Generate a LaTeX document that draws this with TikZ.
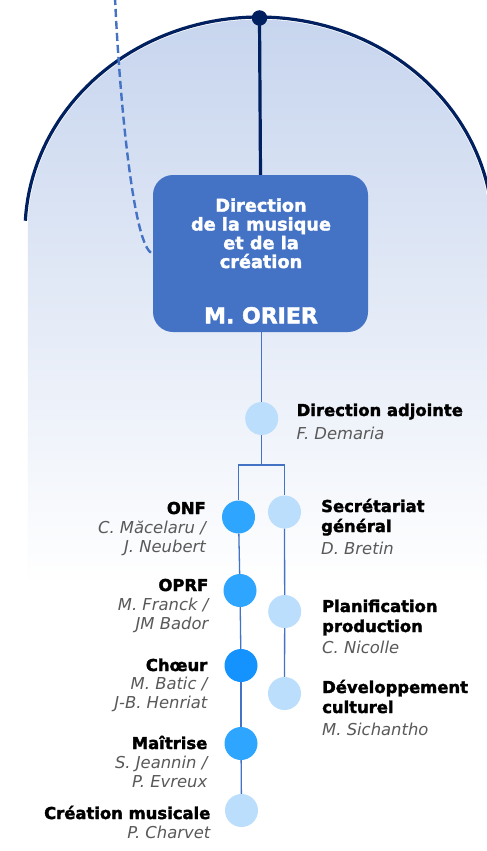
\documentclass[tikz,border=0pt]{standalone}
\usepackage{fontspec}
\setmainfont{DejaVu Sans}[BoldFeatures={FakeBold=2}]
\definecolor{navy}{HTML}{002060}
\definecolor{boxblue}{HTML}{4472C4}
\definecolor{linkblue}{HTML}{4472C4}
\definecolor{lightdot}{HTML}{BBDEFD}
\definecolor{middot}{HTML}{2EA6FF}
\definecolor{deepdot}{HTML}{1493FF}
\definecolor{graytext}{HTML}{595959}
\definecolor{domeTop}{HTML}{C7D5EE}
\pgfdeclareverticalshading{domefade}{100bp}{color(0bp)=(white); color(25bp)=(white); color(30bp)=(white); color(75bp)=(domeTop); color(100bp)=(domeTop)}
\begin{document}
\begin{tikzpicture}[x=1pt,y=-1pt,
  dot/.style={circle, inner sep=0pt, minimum size=33pt, draw=none},
  ldot/.style={dot, fill=lightdot},
  mdot/.style={dot, fill=middot},
  ddot/.style={dot, fill=deepdot},
  bt/.style={font=\bfseries\fontsize{16.4}{18}\selectfont, inner sep=0pt, text=black},
  it/.style={font=\itshape\fontsize{16.4}{18}\selectfont, inner sep=0pt, text=graytext},
  boxt/.style={font=\bfseries\fontsize{17.7}{19}\selectfont, inner sep=0pt, text=white, anchor=base},
  link/.style={draw=linkblue, line width=1.3pt},
  dashlink/.style={draw=linkblue, line width=2.4pt, dash pattern=on 8pt off 4pt},
  navyline/.style={draw=navy, line width=3.2pt}
]
\clip (0,0) rectangle (487,851);
\fill[white] (0,0) rectangle (487,851);
% dome background
\shade[shading=domefade]
  plot[domain=177:0, samples=90] ({259+231.5*cos(\x)},{232-212.5*sin(\x)})
  -- (490.5,650) -- (27.8,650) -- cycle;
% dome outline
\draw[navyline] plot[domain=177:0, samples=90] ({259+234*cos(\x)},{232-215*sin(\x)});

% main box
\node[draw=none, fill=boxblue, rounded corners=20pt, minimum width=215pt, minimum height=157pt, inner sep=0pt] (mbox) at (260.5,253.5) {};
\node[boxt] (bt1) at (261,211.7) {Direction};
\node[boxt] (bt2) at (261,230.5) {de la musique};
\node[boxt] (bt3) at (261,249.2) {et de la};
\node[boxt] (bt4) at (261,268) {création};
\node[boxt, font=\bfseries\fontsize{22}{24}\selectfont] (bt5) at (261,323.3) {M. ORIER};

% top dot and line
\node[circle, fill=navy, inner sep=0pt, minimum size=15.5pt] (top) at (259.5,18) {};
\draw[navyline] (top.center) -- (mbox.north);

% dashed curve
\coordinate (dstart) at (115,-3);
\draw[dashlink] (dstart) .. controls (119,90) and (133,250) .. (mbox.west);

% dots
\node[ldot] (da) at (261.7,418.5) {};
\node[mdot] (onf) at (238.5,517) {};
\node[ldot] (sg) at (284.5,512) {};
\node[mdot] (oprf) at (240,590.5) {};
\node[ldot] (pp) at (284.7,611.5) {};
\node[ddot] (ch) at (241,665.5) {};
\node[ldot] (dc) at (284.5,693.5) {};
\node[mdot] (mt) at (241,743.5) {};
\node[ldot] (cm) at (241.5,810.5) {};
\coordinate (j) at (261.7,465);

% connectors
\draw[link] (da |- mbox.south) -- (da);
\draw[link] (da) -- (j);
\draw[link] (j) -| (onf);
\draw[link] (j) -| (sg);
\draw[link] (onf) -- (oprf);
\draw[link] (oprf) -- (ch);
\draw[link] (ch) -- (mt);
\draw[link] (mt) -- (cm);
\draw[link] (sg) -- (pp);
\draw[link] (pp) -- (dc);

% right labels
\node[bt, anchor=base west] (da1) at (296.5,416) {Direction adjointe};
\node[it, anchor=base west] (da2) at (296.5,439) {F. Demaria};
\node[bt, anchor=base west] (sg1) at (321,512) {Secrétariat};
\node[bt, anchor=base west] (sg2) at (321,532) {général};
\node[it, anchor=base west] (sg3) at (321,554) {D. Bretin};
\node[bt, anchor=base west] (pp1) at (322,612) {Planification};
\node[bt, anchor=base west] (pp2) at (322,632) {production};
\node[it, anchor=base west] (pp3) at (322,653) {C. Nicolle};
\node[bt, anchor=base west] (dc1) at (322,693) {Développement};
\node[bt, anchor=base west] (dc2) at (322,713) {culturel};
\node[it, anchor=base west] (dc3) at (322,735) {M. Sichantho};

% left labels
\node[bt, anchor=base east] (onf1) at (206,514) {ONF};
\node[it, anchor=base east] (onf2) at (206,533) {C. Măcelaru /};
\node[it, anchor=base east] (onf3) at (206,552) {J. Neubert};
\node[bt, anchor=base east] (oprf1) at (208.5,591) {OPRF};
\node[it, anchor=base east] (oprf2) at (208.5,610) {M. Franck /};
\node[it, anchor=base east] (oprf3) at (208.5,629) {JM Bador};
\node[bt, anchor=base east] (ch1) at (207.5,671) {Chœur};
\node[it, anchor=base east] (ch2) at (207.5,689.5) {M. Batic /};
\node[it, anchor=base east] (ch3) at (207.5,708) {J-B. Henriat};
\node[bt, anchor=base east] (mt1) at (207.5,749) {Maîtrise};
\node[it, anchor=base east] (mt2) at (207.5,768) {S. Jeannin /};
\node[it, anchor=base east] (mt3) at (207.5,787) {P. Evreux};
\node[bt, anchor=base east] (cm1) at (210.5,819) {Création musicale};
\node[it, anchor=base east] (cm2) at (210.5,838) {P. Charvet};
\end{tikzpicture}
\end{document}
